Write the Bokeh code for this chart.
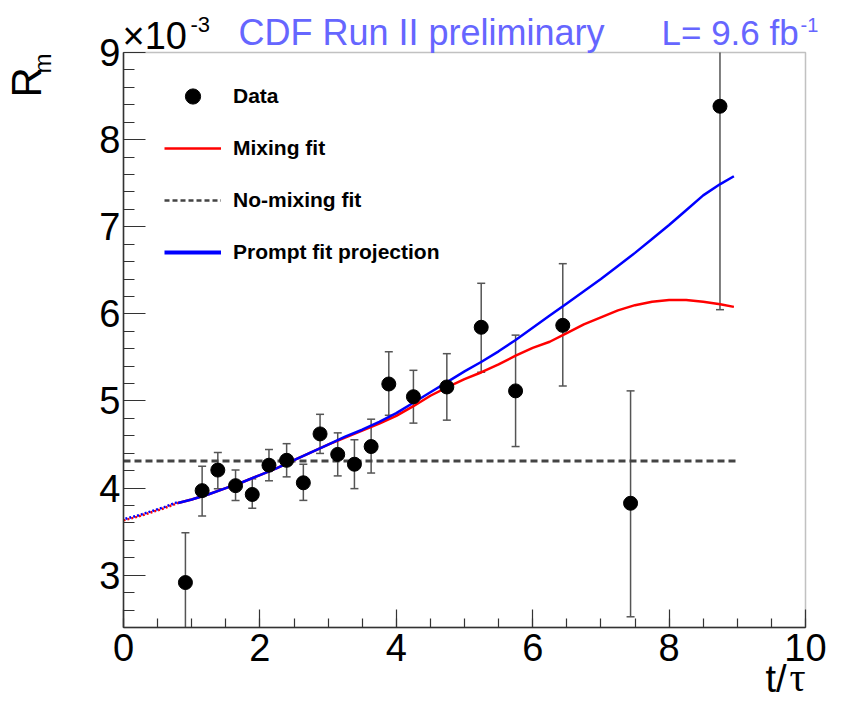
import numpy as np
from bokeh.plotting import figure
from bokeh.models import (Label, Legend, LegendItem, FixedTicker, ColumnDataSource,
                          Range1d, BoxAnnotation)
from bokeh.embed import file_html
from bokeh.resources import INLINE

# ---------------- data (R_m in units of 1e-3) ----------------
t_data = [0.908, 1.153, 1.383, 1.643, 1.888, 2.133, 2.392, 2.637, 2.882, 3.141,
          3.386, 3.631, 3.890, 4.251, 4.741, 5.245, 5.749, 6.441, 7.435, 8.746]
r_data = [2.916, 3.971, 4.207, 4.028, 3.927, 4.263, 4.319, 4.061, 4.622, 4.387,
          4.274, 4.477, 5.195, 5.049, 5.161, 5.846, 5.116, 5.868, 3.826, 8.383]
r_hi = [3.489, 4.252, 4.409, 4.207, 4.106, 4.443, 4.510, 4.274, 4.847, 4.634,
        4.555, 4.791, 5.565, 5.352, 5.543, 6.351, 5.756, 6.576, 5.116, 10.70]
r_lo = [2.340, 3.680, 3.994, 3.859, 3.769, 4.084, 4.129, 3.859, 4.398, 4.140,
        3.994, 4.173, 4.836, 4.746, 4.780, 5.330, 4.477, 5.172, 2.523, 6.048]

# fit curves (solid part)
fit_t = [0.8, 1.0, 1.25, 1.5, 1.75, 2.0, 2.25, 2.5, 2.75, 3.0, 3.25, 3.5, 3.75, 4.0,
         4.25, 4.5, 4.75, 5.0, 5.25, 5.5, 5.75, 6.0, 6.25, 6.5, 6.75, 7.0, 7.25, 7.5,
         7.75, 8.0, 8.25, 8.5, 8.75, 8.95]
mix_r = [3.83, 3.87, 3.93, 4.00, 4.07, 4.15, 4.23, 4.32, 4.41, 4.50, 4.58, 4.66, 4.74,
         4.83, 4.94, 5.06, 5.16, 5.25, 5.33, 5.42, 5.52, 5.61, 5.68, 5.78, 5.88, 5.96,
         6.04, 6.10, 6.14, 6.16, 6.16, 6.14, 6.11, 6.08]
prompt_r = [3.83, 3.87, 3.93, 4.00, 4.07, 4.15, 4.23, 4.32, 4.41, 4.50, 4.59, 4.67, 4.76,
            4.86, 4.98, 5.10, 5.22, 5.34, 5.45, 5.57, 5.70, 5.84, 5.98, 6.12, 6.26, 6.40,
            6.55, 6.70, 6.86, 7.02, 7.19, 7.36, 7.49, 7.58]
# extrapolated (dotted) part
extr_t = [0.0, 0.2, 0.4, 0.6, 0.8]
extr_r = [3.63, 3.67, 3.72, 3.77, 3.83]
# no-mixing fit
nomix_t = [0.0, 9.0]
nomix_r = [4.31, 4.31]

x_major = [0, 2, 4, 6, 8, 10]
x_minor = [0.5 * i for i in range(21)]
y_major = [3, 4, 5, 6, 7, 8, 9]
y_minor = [round(2.4 + 0.2 * i, 2) for i in range(34)]

legend_labels = ["Data", "Mixing fit", "No-mixing fit", "Prompt fit projection"]

# ---------------- geometry ----------------
W, H = 827, 701
XMIN, XMAX, YMIN, YMAX = 0.0, 10.0, 2.4, 9.0
BL, BR, BT, BB = 123, 805, 52, 627   # plot box in canvas px


def dx(px):  # canvas px -> data x
    return XMIN + (px - BL) / (BR - BL) * (XMAX - XMIN)


def dy(py):
    return YMIN + (BB - py) / (BB - BT) * (YMAX - YMIN)


p = figure(width=W, height=H, x_range=Range1d(dx(0), dx(W)), y_range=Range1d(dy(H), dy(0)),
           output_backend="svg", toolbar_location=None, title=None,
           min_border_left=0, min_border_right=0, min_border_top=0, min_border_bottom=0)
p.grid.visible = False
p.background_fill_color = "white"
p.border_fill_color = "white"
p.outline_line_color = None

# plot box
p.add_layout(BoxAnnotation(left=XMIN, right=XMAX, bottom=YMIN, top=YMAX,
                           fill_alpha=0, line_color="#333333", line_width=1.5))

FONT = "Liberation Sans"
xa, ya = p.xaxis[0], p.yaxis[0]
xa.fixed_location = YMIN
ya.fixed_location = XMIN
xa.bounds = (XMIN, XMAX)
ya.bounds = (YMIN, YMAX)
for ax, maj, mnr, tin in ((xa, x_major, x_minor, 18), (ya, y_major, y_minor, 22)):
    ax.ticker = FixedTicker(ticks=maj, minor_ticks=mnr)
    ax.major_tick_in = tin
    ax.major_tick_out = 0
    ax.minor_tick_in = tin // 2
    ax.minor_tick_out = 0
    ax.axis_line_color = "#333333"
    ax.axis_line_width = 1.5
    ax.major_tick_line_color = "#333333"
    ax.minor_tick_line_color = "#333333"
    ax.major_tick_line_width = 1.2
    ax.minor_tick_line_width = 1.2
    ax.major_label_text_font = FONT
    ax.major_label_text_font_size = "38px"
    ax.major_label_text_color = "black"
xa.major_label_standoff = 6
ya.major_label_standoff = 3

# error bars clipped to the plot box
hi_a = np.array(r_hi)
lo_a = np.array(r_lo)
src = ColumnDataSource(dict(
    t=t_data, r=r_data,
    bar_hi=np.minimum(hi_a, YMAX), bar_lo=np.maximum(lo_a, YMIN),
    cap_hi=np.where(hi_a <= YMAX, hi_a, np.nan), cap_lo=np.where(lo_a >= YMIN, lo_a, np.nan)))

p.segment(x0="t", y0="bar_lo", x1="t", y1="bar_hi", source=src, line_color="#555555",
          line_width=1.5)
p.scatter(x="t", y="cap_hi", source=src, marker="dash", size=8, line_color="#555555",
          line_width=1.5)
p.scatter(x="t", y="cap_lo", source=src, marker="dash", size=8, line_color="#555555",
          line_width=1.5)

# no-mixing
p.line(nomix_t, nomix_r, line_color="#444444", line_width=3, line_dash="7 4")

# extrapolation dotted
p.line(extr_t, extr_r, line_color="red", line_width=2.5, line_dash="2 2")
p.line(extr_t, [v + 0.012 for v in extr_r], line_color="blue", line_width=2.5,
       line_dash="2 2", line_dash_offset=2)
# fits
p.line(fit_t, mix_r, line_color="red", line_width=2.5)
p.line(fit_t, prompt_r, line_color="blue", line_width=2.5)

# data points
p.scatter(x="t", y="r", source=src, marker="circle", size=14, fill_color="black",
          line_color="black")


# legend proxies (NaN data, nothing drawn in the plot)
def proxy():
    return ColumnDataSource(dict(x=[np.nan], y=[np.nan]))


lg_data = p.scatter(x="x", y="y", source=proxy(), marker="circle", size=15,
                    fill_color="black", line_color="black")
lg_mix = p.line(x="x", y="y", source=proxy(), line_color="red", line_width=2.5)
lg_nomix = p.line(x="x", y="y", source=proxy(), line_color="#444444",
                  line_width=2.5, line_dash="5 3")
lg_prompt = p.line(x="x", y="y", source=proxy(), line_color="blue", line_width=4)

legend = Legend(items=[LegendItem(label=l, renderers=[r]) for l, r in
                       zip(legend_labels, [lg_data, lg_mix, lg_nomix, lg_prompt])],
                location=(164, 430), orientation="vertical",
                glyph_width=57, glyph_height=38, label_height=38, spacing=14,
                label_standoff=12, padding=0, margin=0,
                border_line_alpha=0, background_fill_alpha=0,
                label_text_font=FONT, label_text_font_style="bold",
                label_text_font_size="21px", label_text_color="black")
p.add_layout(legend)

# ---------------- texts ----------------
TCOL = "#6666ff"
SHIFT = 0.34  # empirical baseline correction (fraction of font size)


def lab(txt, px, py, size, color="black", align="left", rotated=False, font=FONT):
    if rotated:
        ax_, ay_, ang = px - SHIFT * size, py, np.pi / 2
    else:
        ax_, ay_, ang = px, py - SHIFT * size, 0.0
    p.add_layout(Label(x=dx(ax_), y=dy(ay_), text=txt, text_font=font,
                       text_font_size=f"{size}px", text_color=color, text_align=align,
                       text_baseline="alphabetic", angle=ang))


lab("CDF Run II preliminary", 238, 44, 36, TCOL)
lab("L= 9.6 fb", 661, 44, 35, TCOL)
lab("-1", 800, 31, 20, TCOL)

lab("\u00d710", 122, 48, 38)
lab("-3", 190, 31, 22)

lab("R", 40, 97, 42, rotated=True)
lab("m", 50, 73, 24, rotated=True)

lab("t/", BR - 19, 691, 38, align="right")
lab("\u03c4", BR, 691, 40, align="right", font="Liberation Serif")

open("out.html", "w").write(file_html(p, INLINE))
